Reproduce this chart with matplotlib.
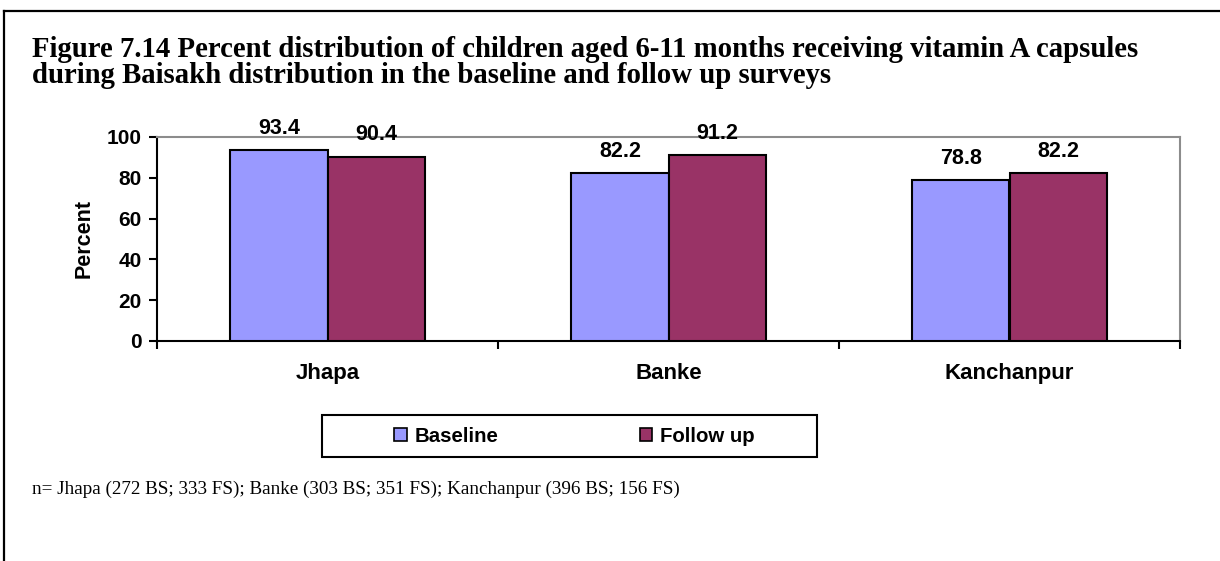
import matplotlib
matplotlib.use("Agg")
import matplotlib.pyplot as plt
import numpy as np
from matplotlib.lines import Line2D
from matplotlib.patches import Rectangle

categories = ["Jhapa", "Banke", "Kanchanpur"]
baseline = [93.4, 82.2, 78.8]
follow_up = [90.4, 91.2, 82.2]
series_names = ["Baseline", "Follow up"]
yticks = [0, 20, 40, 60, 80, 100]
title = ("Figure 7.14 Percent distribution of children aged 6-11 months receiving vitamin A capsules\n"
         "during Baisakh distribution in the baseline and follow up surveys")
footnote = "n= Jhapa (272 BS; 333 FS); Banke (303 BS; 351 FS); Kanchanpur (396 BS; 156 FS)"

W, H = 1220, 561
fig = plt.figure(figsize=(W / 100, H / 100), dpi=100)
fig.patch.set_facecolor("white")

sans = ["Liberation Sans", "DejaVu Sans"]
serif = ["Liberation Serif", "DejaVu Serif"]

ax = fig.add_axes([157 / W, 1 - 341 / H, (1180 - 157) / W, (341 - 137) / H])
x = np.arange(len(categories))
bw = 0.285
c1, c2 = "#9999FF", "#993366"
b1 = ax.bar(x - bw / 2, baseline, bw, color=c1, edgecolor="black", linewidth=1.5, zorder=3)
b2 = ax.bar(x + bw / 2, follow_up, bw, color=c2, edgecolor="black", linewidth=1.5, zorder=3)
for bars, vals in ((b1, baseline), (b2, follow_up)):
    for r, v in zip(bars, vals):
        ax.annotate(f"{v:.1f}", (r.get_x() + r.get_width() / 2, v), xytext=(0, 8),
                    textcoords="offset points", ha="center", va="bottom",
                    fontsize=15.5, fontweight="bold", family=sans)

ax.set_xlim(-0.5, len(categories) - 0.5)
ax.set_ylim(0, 100)
ax.set_yticks(yticks)
ax.set_yticklabels([str(t) for t in yticks], fontsize=15, fontweight="bold", family=sans)
ax.set_xticks(np.arange(len(categories) + 1) - 0.5)
ax.set_xticklabels([])
ax.set_xticks(x, minor=True)
ax.set_xticklabels(categories, minor=True, fontsize=16, fontweight="bold", family=sans)
ax.tick_params(axis="x", which="minor", length=0, pad=16)
ax.tick_params(axis="x", which="major", length=6, width=1.5, direction="out")
ax.tick_params(axis="y", length=6, width=1.5, direction="out", pad=5)
ax.set_ylabel("Percent", fontsize=15.5, fontweight="bold", family=sans, labelpad=9)
for s in ("left", "bottom"):
    ax.spines[s].set_linewidth(1.5)
    ax.spines[s].set_color("black")
for s in ("top", "right"):
    ax.spines[s].set_linewidth(1.5)
    ax.spines[s].set_color("#8c8c8c")

handles = [plt.Rectangle((0, 0), 1, 1, facecolor=c1, edgecolor="black", linewidth=1.2),
           plt.Rectangle((0, 0), 1, 1, facecolor=c2, edgecolor="black", linewidth=1.2)]
leg = fig.legend(handles, series_names, loc="center", bbox_to_anchor=(574.5 / W, 1 - 436 / H),
                 ncol=2, frameon=False, handlelength=0.6, handleheight=0.6,
                 handletextpad=0.4, columnspacing=6.9, borderpad=0.0,
                 prop={"family": sans, "weight": "bold", "size": 14.7})
fig.add_artist(Rectangle((322 / W, 1 - 457 / H), (817 - 322) / W, 42 / H, transform=fig.transFigure,
                         facecolor="none", edgecolor="black", linewidth=1.5))

fig.text(32 / W, 1 - 36 / H, title, fontsize=20.7, fontweight="bold", family=serif,
         ha="left", va="top", linespacing=0.93)
fig.text(32 / W, 1 - 489 / H, footnote, fontsize=13.8, family=serif, ha="left", va="center")

fig.add_artist(Line2D([4 / W, 4 / W], [0, 1 - 11 / H], color="black", linewidth=1.6,
                      transform=fig.transFigure))
fig.add_artist(Line2D([4 / W, 1], [1 - 11 / H, 1 - 11 / H], color="black", linewidth=1.6,
                      transform=fig.transFigure))

fig.savefig("out.png", dpi=100, facecolor="white")
